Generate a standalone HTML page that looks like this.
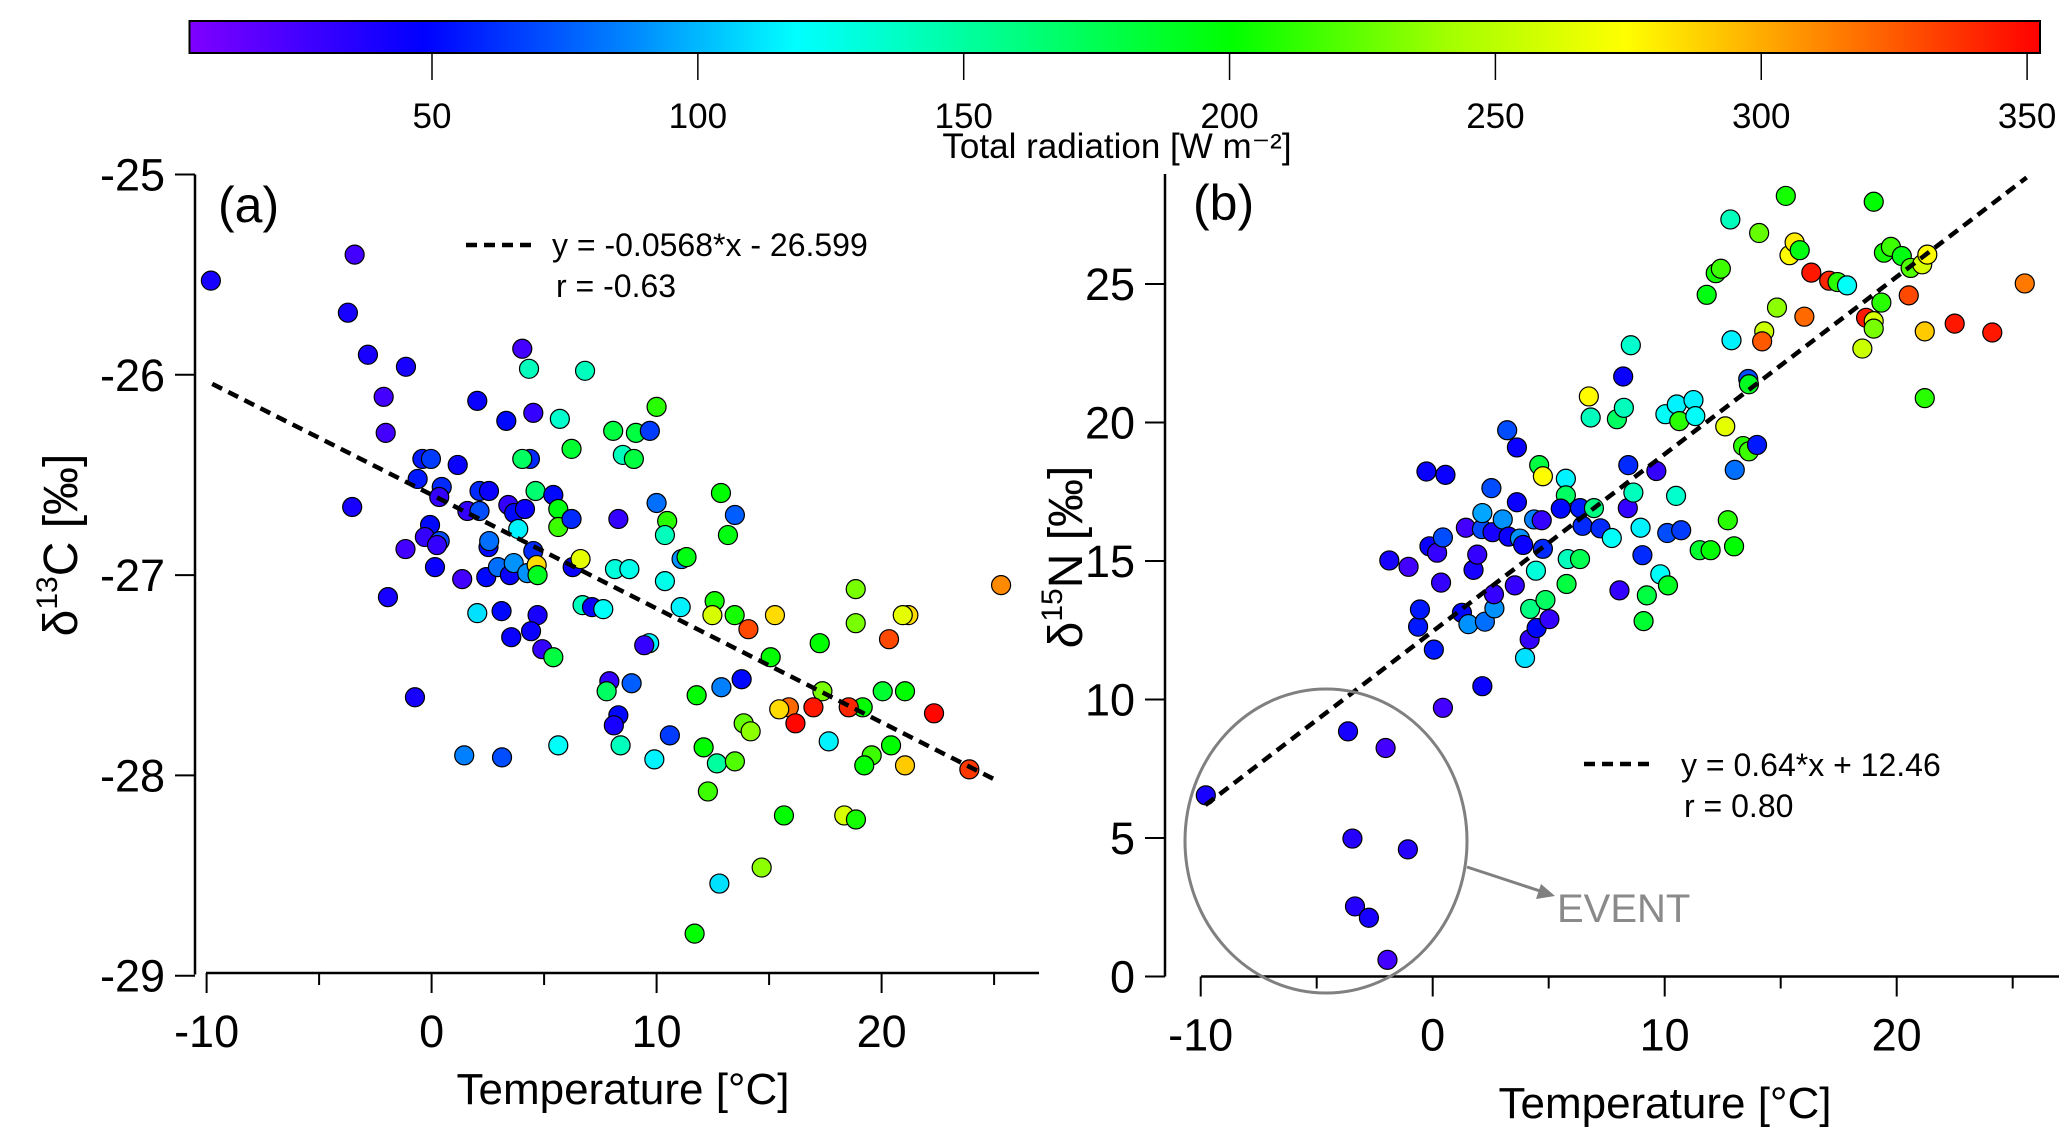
<!DOCTYPE html>
<html><head><meta charset="utf-8"><style>
html,body{margin:0;padding:0;background:#fff}
svg{display:block;font-family:"Liberation Sans",Arial,sans-serif}
</style></head><body>
<svg id="fig" width="2067" height="1145" viewBox="0 0 2067 1145" xmlns="http://www.w3.org/2000/svg">
<defs><linearGradient id="cmap" x1="0" x2="1" y1="0" y2="0"></linearGradient></defs>
<g id="cbar"></g>
<g id="pa"></g>
<g id="pb"></g>
</svg>
<script>
// ---- data ----
const cbTicks = [50,100,150,200,250,300,350];
const aXTicks = [-10,0,10,20];
const aYTicks = [-25,-26,-27,-28,-29];
const bXTicks = [-10,0,10,20];
const bYTicks = [0,5,10,15,20,25];
const aSlope = -0.0568, aIntercept = -26.599;
const bSlope = 0.64, bIntercept = 12.46;
const aTemp = [-9.81,-3.42,-3.72,-2.83,-1.14,-2.13,-2.04,-3.53,-1.94,-0.74,4.03,4.33,6.82,2.03,3.32,4.52,5.70,6.22,10.0,8.07,9.08,9.70,8.50,8.99,4.37,4.03,-0.41,-0.03,1.16,-0.62,0.45,0.34,2.13,2.55,1.59,2.13,3.41,3.67,4.15,4.62,5.41,5.63,5.63,6.22,8.30,10.0,10.47,10.37,3.85,-0.07,-0.30,0.36,0.24,-1.16,0.15,2.53,2.56,1.36,2.43,2.95,3.48,3.65,4.25,4.52,4.67,4.71,6.27,6.62,8.15,8.79,10.37,11.11,11.33,11.07,2.03,3.11,4.71,6.71,7.13,7.63,3.54,4.42,4.92,5.41,9.67,9.45,7.90,7.78,8.89,8.30,8.10,10.59,1.45,3.13,5.63,8.40,9.90,
12.86,13.48,13.17,25.31,18.85,18.85,21.19,20.94,20.33,15.26,14.08,13.47,12.58,12.48,17.25,15.07,13.78,12.88,11.78,17.37,20.05,21.04,22.33,19.16,18.54,16.97,15.88,15.45,16.17,13.87,14.18,17.65,20.42,19.56,19.23,21.04,23.90,12.09,12.68,13.48,12.28,15.66,18.34,18.86,14.67,12.79,11.69];
const aD13C = [-25.53,-25.40,-25.69,-25.90,-25.96,-26.11,-26.29,-26.66,-27.11,-27.61,-25.87,-25.97,-25.98,-26.13,-26.23,-26.19,-26.22,-26.37,-26.16,-26.28,-26.29,-26.28,-26.40,-26.42,-26.42,-26.42,-26.42,-26.42,-26.45,-26.52,-26.56,-26.61,-26.58,-26.58,-26.68,-26.68,-26.65,-26.69,-26.67,-26.58,-26.60,-26.67,-26.76,-26.72,-26.72,-26.64,-26.73,-26.80,-26.77,-26.75,-26.81,-26.83,-26.85,-26.87,-26.96,-26.86,-26.83,-27.02,-27.01,-26.96,-27.00,-26.94,-26.99,-26.88,-26.95,-27.00,-26.96,-26.92,-26.97,-26.97,-27.03,-26.92,-26.91,-27.16,-27.19,-27.18,-27.20,-27.15,-27.16,-27.17,-27.31,-27.28,-27.37,-27.41,-27.34,-27.35,-27.53,-27.58,-27.54,-27.70,-27.75,-27.80,-27.90,-27.91,-27.85,-27.85,-27.92,
-26.59,-26.70,-26.80,-27.05,-27.07,-27.24,-27.20,-27.20,-27.32,-27.20,-27.27,-27.20,-27.13,-27.20,-27.34,-27.41,-27.52,-27.56,-27.60,-27.58,-27.58,-27.58,-27.69,-27.66,-27.66,-27.66,-27.66,-27.67,-27.74,-27.74,-27.78,-27.83,-27.85,-27.90,-27.95,-27.95,-27.97,-27.86,-27.94,-27.93,-28.08,-28.20,-28.20,-28.22,-28.46,-28.54,-28.79];
const aRad = [40,25,40,40,40,25,25,40,40,40,25,140,140,45,50,30,135,185,210,180,180,65,140,180,60,170,55,65,45,55,60,30,60,45,30,70,30,50,45,165,50,195,215,60,30,80,210,140,115,50,30,70,30,25,45,50,80,25,50,80,45,90,90,60,285,190,45,265,130,125,125,90,195,115,110,50,40,140,45,120,45,45,30,180,115,30,30,170,75,50,40,65,85,70,120,140,115,
200,75,195,310,230,230,285,265,330,285,330,205,205,260,200,200,50,85,200,230,185,200,350,200,340,345,320,285,350,225,235,115,200,215,200,290,335,200,150,220,215,200,260,205,235,110,200];
const bTemp = [-9.78,-3.65,-2.03,-3.46,-1.07,-3.35,-2.75,-1.95,0.44,2.14,0.05,-0.63,-0.55,-1.87,-1.04,-0.27,0.55,-0.14,0.19,0.44,0.36,1.26,1.54,2.25,2.66,2.64,1.76,1.92,1.43,2.12,2.14,2.53,2.58,3.02,3.21,3.63,3.63,3.27,3.76,3.90,3.54,4.20,3.98,4.18,4.48,4.86,5.03,4.45,4.75,4.37,4.70,4.59,4.75,5.74,5.74,5.52,6.35,6.46,6.95,5.82,6.35,5.77,7.23,7.72,8.41,8.65,8.43,9.64,8.21,8.54,6.73,6.81,7.94,8.24,8.96,9.04,8.05,9.23,9.09,9.81,10.14,10.03,10.52,10.63,11.24,11.32,10.11,10.71,10.49,11.51,11.98,12.72,12.99,12.61,13.38,13.63,13.02,13.98,13.60,13.63,11.81,12.20,12.42,12.83,12.88,14.07,14.29,14.20,14.84,15.22,15.38,15.60,15.82,16.02,16.32,17.09,17.45,17.86,18.52,18.68,19.01,19.01,19.01,19.34,19.45,19.75,20.22,20.52,20.60,21.10,21.32,21.21,21.21,22.50,24.12,25.52];
const bD15N = [6.54,8.85,8.25,4.98,4.59,2.53,2.12,0.60,9.70,10.48,11.80,12.63,13.25,15.02,14.79,18.23,18.11,15.53,15.30,15.85,14.22,13.13,12.72,12.81,13.29,13.80,14.68,15.23,16.20,16.15,16.73,17.63,16.04,16.50,19.72,19.10,17.12,15.88,15.81,15.58,14.12,13.27,11.50,12.17,12.58,13.59,12.90,14.65,15.44,16.50,16.47,18.46,18.06,17.97,17.37,16.89,16.91,16.27,16.91,15.07,15.07,14.17,16.18,15.83,16.91,17.47,18.46,18.25,21.66,22.79,20.94,20.18,20.12,20.53,16.20,15.21,13.94,13.76,12.83,14.52,14.12,20.30,20.65,20.05,20.81,20.23,16.01,16.11,17.35,15.39,15.39,16.47,15.53,19.86,19.15,18.96,18.29,19.19,21.57,21.38,24.61,25.39,25.55,27.33,22.97,26.84,23.29,22.93,24.15,28.18,26.04,26.50,26.22,23.82,25.41,25.12,25.07,24.95,22.67,23.78,23.66,23.39,27.97,24.33,26.13,26.34,26.01,24.59,25.58,25.71,26.06,23.29,20.88,23.57,23.25,25.02];
const bRad = [40,40,25,35,35,35,40,25,25,45,55,55,55,40,25,45,45,45,30,70,30,50,90,80,90,30,40,30,25,70,95,70,40,90,70,45,45,45,90,45,30,160,110,30,50,170,30,130,60,85,30,180,275,115,170,50,55,60,160,140,175,180,60,120,30,140,60,30,45,135,275,140,170,140,115,60,30,180,185,120,190,120,115,210,115,120,70,65,135,185,200,210,200,265,210,215,80,55,70,190,195,205,215,140,115,225,255,325,235,205,275,280,195,320,345,340,210,120,255,345,260,230,200,210,205,215,195,330,220,260,275,290,210,345,345,315];

// ---- colormap ----
const cmStops = [[4,[128,0,255]],[48,[0,0,255]],[85,[0,128,255]],[118,[0,255,255]],[160,[0,255,128]],[200,[0,255,0]],[240,[160,255,0]],[274,[255,255,0]],[313,[255,128,0]],[352,[255,0,0]]];
function cmap(v){
  if(v<=cmStops[0][0]) return 'rgb('+cmStops[0][1].join(',')+')';
  for(let i=1;i<cmStops.length;i++){
    if(v<=cmStops[i][0]){
      const [v0,c0]=cmStops[i-1],[v1,c1]=cmStops[i];const t=(v-v0)/(v1-v0);
      return 'rgb('+c0.map((c,k)=>Math.round(c+(c1[k]-c)*t)).join(',')+')';
    }
  }
  return 'rgb(255,0,0)';
}
const NS='http://www.w3.org/2000/svg';
function mk(parent,tag,attrs,text){const e=document.createElementNS(NS,tag);for(const k in attrs)e.setAttribute(k,attrs[k]);if(text!==undefined)e.textContent=text;parent.appendChild(e);return e;}

// ---- colorbar ----
const grad=document.getElementById('cmap');
cmStops.forEach(s=>{mk(grad,'stop',{offset:((s[0]-4)/(352-4)),'stop-color':cmap(s[0])});});
const cb=document.getElementById('cbar');
const cbX=v=>432+(v-50)*5.317;
let cbr=mk(cb,'rect',{x:189.5,y:21,width:1850.5,height:32,fill:'url(#cmap)',stroke:'#000','stroke-width':2});


cbTicks.forEach(v=>{
  const t=mk(cb,'line',{x1:cbX(v),x2:cbX(v),y1:53,y2:80,stroke:'#000','stroke-width':1.5});
  
  
  const l=mk(cb,'text',{x:cbX(v),y:128,'font-size':35,'text-anchor':'middle'},String(v));
  
  
});
const cbt=mk(cb,'text',{x:1117,y:158,'font-size':35,'text-anchor':'middle'},'Total radiation [W m⁻²]');



// ---- panel builder ----
function panel(g,cfg){
  const X=t=>cfg.x0+t*cfg.sx, Y=v=>cfg.y0-(v-cfg.v0)*cfg.sy;
  let ax=mk(g,'line',{x1:cfg.axX,x2:cfg.axX,y1:cfg.yTop,y2:cfg.yBot,stroke:'#000','stroke-width':2.5});
  
  
  let bx=mk(g,'line',{x1:cfg.xL,x2:cfg.xR,y1:cfg.xAxY,y2:cfg.xAxY,stroke:'#000','stroke-width':2.5});
  
  
  cfg.yTicks.forEach(v=>{
    const t=mk(g,'line',{x1:cfg.axX-20,x2:cfg.axX,y1:Y(v),y2:Y(v),stroke:'#000','stroke-width':2});
    
    
    const l=mk(g,'text',{x:cfg.axX-30,y:Y(v)+16,'font-size':45,'text-anchor':'end'},String(v));
    
    
  });
  cfg.xTicks.forEach(v=>{
    const t=mk(g,'line',{x1:X(v),x2:X(v),y1:cfg.xAxY,y2:cfg.xAxY+20,stroke:'#000','stroke-width':2});
    
    
    const m=mk(g,'line',{x1:X(v+5),x2:X(v+5),y1:cfg.xAxY,y2:cfg.xAxY+12,stroke:'#000','stroke-width':2});
    
    
    const l=mk(g,'text',{x:X(v),y:cfg.xAxY+74,'font-size':45,'text-anchor':'middle'},String(v));
    
    
  });
  cfg.T.forEach((t,i)=>{
    const c=mk(g,'circle',{cx:X(t),cy:Y(cfg.V[i]),r:9.5,fill:cmap(cfg.R[i]),stroke:'#000','stroke-width':1.2});
    
    
  });
  const fl=mk(g,'line',{x1:X(cfg.fit0),y1:Y(cfg.slope*cfg.fit0+cfg.icpt),x2:X(cfg.fit1),y2:Y(cfg.slope*cfg.fit1+cfg.icpt),stroke:'#000','stroke-width':4.5,'stroke-dasharray':'11 7'});
  
  
  return {X,Y};
}

const pa=document.getElementById('pa');
panel(pa,{x0:431.6,sx:22.5,y0:174.5,v0:-25,sy:200.3,axX:195,yTop:174.5,yBot:974.5,xL:206,xR:1039,xAxY:973,yTicks:aYTicks,xTicks:aXTicks,T:aTemp,V:aD13C,R:aRad,slope:aSlope,icpt:aIntercept,fit0:-9.75,fit1:25.2});
const pb=document.getElementById('pb');
panel(pb,{x0:1432.7,sx:23.2,y0:976.5,v0:0,sy:27.7,axX:1165,yTop:174,yBot:976.5,xL:1201,xR:2059,xAxY:976.5,yTicks:bYTicks,xTicks:bXTicks,T:bTemp,V:bD15N,R:bRad,slope:bSlope,icpt:bIntercept,fit0:-9.8,fit1:25.6});
</script>
<script>
const svg=document.getElementById('fig');
const st=document.createElementNS(NS,'g');svg.appendChild(st);
st.innerHTML=`
<text x="218" y="222" font-size="50">(a)</text>
<line x1="466" y1="245" x2="532" y2="245" stroke="#000" stroke-width="4.5" stroke-dasharray="11 7"/>
<text x="552" y="256" font-size="32">y = -0.0568*x - 26.599</text>
<text x="556" y="297" font-size="32">r = -0.63</text>
<text x="623" y="1104" font-size="44" text-anchor="middle">Temperature [°C]</text>
<text transform="translate(77,545) rotate(-90)" font-size="48" text-anchor="middle">δ<tspan font-size="30" dy="-20">13</tspan><tspan dy="20">C [‰]</tspan></text>
<text x="1193" y="220" font-size="50">(b)</text>
<line x1="1584" y1="764" x2="1650" y2="764" stroke="#000" stroke-width="4.5" stroke-dasharray="11 7"/>
<text x="1681" y="776" font-size="32">y = 0.64*x + 12.46</text>
<text x="1684" y="817" font-size="32">r = 0.80</text>
<text x="1665" y="1118" font-size="44" text-anchor="middle">Temperature [°C]</text>
<text transform="translate(1082,557) rotate(-90)" font-size="48" text-anchor="middle">δ<tspan font-size="30" dy="-20">15</tspan><tspan dy="20">N [‰]</tspan></text>
<ellipse cx="1326" cy="841" rx="141" ry="152" fill="none" stroke="#808080" stroke-width="3"/>
<line x1="1467" y1="867" x2="1543" y2="892" stroke="#808080" stroke-width="3"/>
<polygon points="1555,896 1536,899 1541,884" fill="#808080"/>
<text x="1557" y="922" font-size="40" fill="#8a8a8a">EVENT</text>`;
</script>
</body></html>
